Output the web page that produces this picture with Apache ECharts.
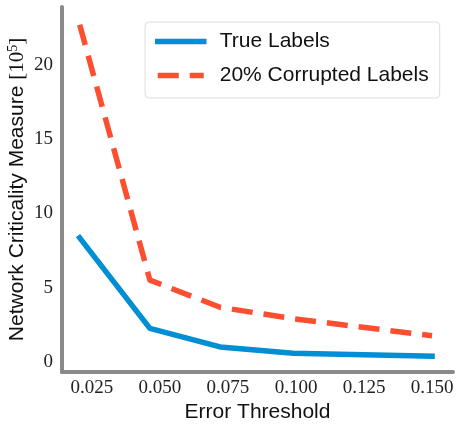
<!DOCTYPE html>
<html>
<head>
<meta charset="utf-8">
<script src="https://cdn.jsdelivr.net/npm/echarts@6/dist/echarts.min.js"></script>
<style>html,body{margin:0;padding:0;background:#fff}#c{width:456px;height:424px}</style>
</head>
<body>
<div id="c"></div>
<script>
const thresholds = [0.0205, 0.0463, 0.0721, 0.099, 0.15];
const trueLabels = [8.35, 2.25, 1.0, 0.57, 0.38];
const corruptedLabels = [22.7, 5.5, 3.67, 2.9, 1.75];
const xTicks = [0.025, 0.05, 0.075, 0.1, 0.125, 0.15];
const yTicks = [0, 5, 10, 15, 20];
const seriesNames = ['True Labels', '20% Corrupted Labels'];

const chart = echarts.init(document.getElementById('c'), null, {renderer: 'canvas'});
const pair = (xs, ys) => xs.map((x, i) => [x, ys[i]]);
const serif = 'Liberation Serif';
const sans = 'Liberation Sans';
chart.setOption({
  animation: false,
  backgroundColor: '#fff',
  grid: {left: 62, right: 3, top: 7, bottom: 52, containLabel: false, outerBoundsMode: 'none'},
  legend: {
    orient: 'vertical', left: 145, top: 22,
    padding: [9, 11, 12, 10],
    itemGap: 13,
    itemWidth: 46, itemHeight: 14,
    backgroundColor: '#fff', borderColor: '#dcdcdc', borderWidth: 1, borderRadius: 4,
    itemStyle: {opacity: 0},
    lineStyle: {width: 5.5},
    textStyle: {fontFamily: sans, fontSize: 21, color: '#111', lineHeight: 21, padding: [0, 0, 0, 11]},
    data: seriesNames
  },
  xAxis: {
    type: 'value', min: 0.014, max: 0.1577,
    name: 'Error Threshold', nameLocation: 'middle', nameGap: 30, nameMoveOverlap: false,
    nameTextStyle: {fontFamily: sans, fontSize: 21, color: '#111'},
    axisLine: {show: true, onZero: false, lineStyle: {color: '#8a8a8a', width: 4}},
    axisTick: {show: false},
    splitLine: {show: false},
    axisLabel: {customValues: xTicks, formatter: v => v.toFixed(3), fontFamily: serif, fontSize: 19, color: '#222', margin: 7}
  },
  yAxis: {
    type: 'value', min: -0.69, max: 23.9,
    name: 'Network Criticality Measure {s|[10}{sup|5}{s|]}', nameLocation: 'middle', nameGap: 34, nameRotate: 90, nameMoveOverlap: false,
    nameTextStyle: {fontFamily: sans, fontSize: 21, color: '#111',
      rich: {s: {fontFamily: serif, fontSize: 21, color: '#111'}, sup: {fontFamily: serif, fontSize: 14, color: '#111', verticalAlign: 'top', padding: [0, 0, 8, 0]}}},
    axisLine: {show: true, onZero: false, lineStyle: {color: '#8a8a8a', width: 4}},
    axisTick: {show: false},
    splitLine: {show: false},
    axisLabel: {customValues: yTicks, fontFamily: serif, fontSize: 19, color: '#222', margin: 9}
  },
  series: [
    {name: seriesNames[0], type: 'line', data: pair(thresholds, trueLabels), showSymbol: false, symbol: 'none',
     lineStyle: {color: '#008fd5', width: 5.5, cap: 'square', join: 'round'}, itemStyle: {color: '#008fd5'}},
    {name: seriesNames[1], type: 'line', data: pair(thresholds, corruptedLabels), showSymbol: false, symbol: 'none',
     lineStyle: {color: '#fc4f30', width: 5.5, type: [21, 11], cap: 'butt', join: 'round'}, itemStyle: {color: '#fc4f30'}}
  ]
});
</script>
</body>
</html>
